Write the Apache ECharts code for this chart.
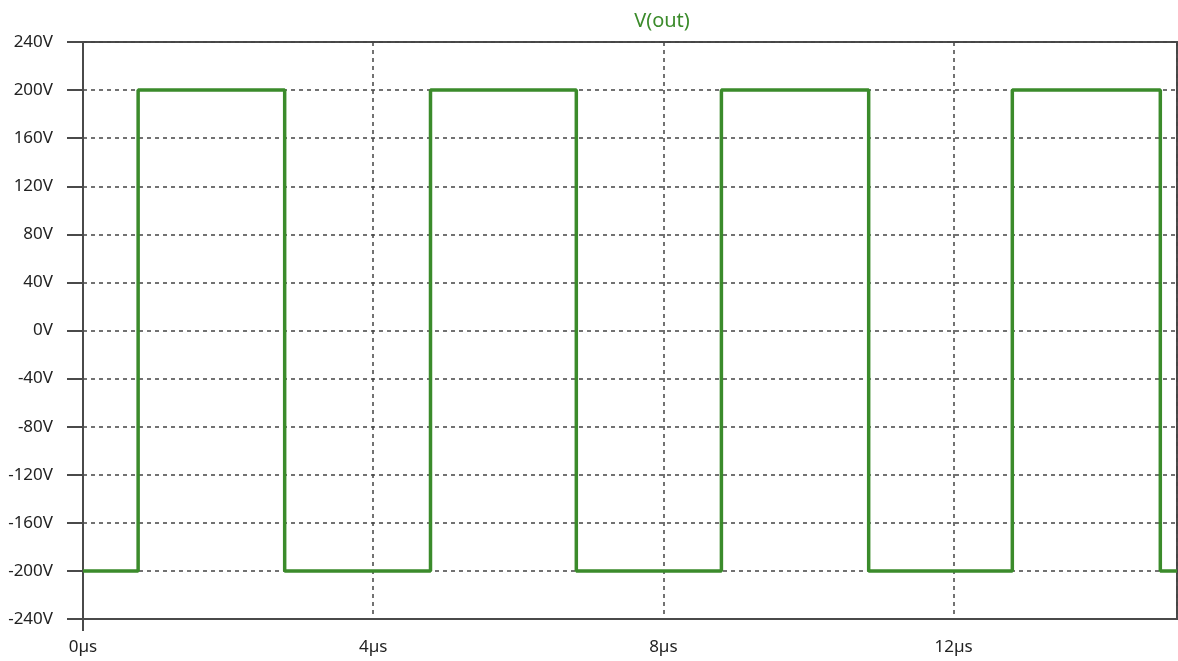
<!DOCTYPE html>
<html>
<head>
<meta charset="utf-8">
<title>V(out)</title>
<script src="https://cdn.jsdelivr.net/npm/echarts@6/dist/echarts.min.js"></script>
<style>
  html, body { margin: 0; padding: 0; background: #ffffff; }
  #chart { width: 1178px; height: 661px; }
</style>
</head>
<body>
<div id="chart"></div>
<script>
// Transient output voltage: breakpoints of the square wave (time in µs, level in V)
const edgeTimes = [0, 0.76, 2.78, 4.79, 6.80, 8.80, 10.83, 12.81, 14.85, 15.08];
const levels    = [-200, 200, -200, 200, -200, 200, -200, 200, -200, -200];

// Axis ranges and ticks
const timeMin = 0;
const timeMax = 15.08;
const timeStep = 4;
const originTick = [0];
const voltMin = -240;
const voltMax = 240;
const voltStep = 40;

const traceName = 'V(out)';
const traceColor = '#3b8b2b';
const axisColor = '#4a4a4a';
const gridColor = '#444444';
const labelFont = '"Noto Sans", "Open Sans", sans-serif';

const points = edgeTimes.map((t, i) => [t, levels[i]]);

const chart = echarts.init(document.getElementById('chart'), null, { renderer: 'canvas' });

chart.setOption({
  animation: false,
  backgroundColor: '#ffffff',
  title: {
    text: traceName,
    left: 657,
    top: 6,
    textAlign: 'center',
    textStyle: { color: traceColor, fontFamily: labelFont, fontSize: 20, fontWeight: 'normal' }
  },
  grid: {
    left: 83, right: 1, top: 42, bottom: 42,
    show: true,
    borderColor: axisColor,
    borderWidth: 2,
    backgroundColor: 'transparent'
  },
  xAxis: [{
    // time axis with labels and dotted vertical grid
    type: 'value',
    min: timeMin,
    max: timeMax,
    interval: timeStep,
    axisLine: { show: true, onZero: false, lineStyle: { color: axisColor, width: 2 } },
    axisTick: { show: false },
    axisLabel: {
      show: true,
      margin: 20,
      color: '#222',
      fontFamily: labelFont,
      fontSize: 17,
      showMaxLabel: false,
      formatter: v => (Math.abs(v / timeStep - Math.round(v / timeStep)) < 1e-9 ? v + 'µs' : '')
    },
    splitLine: {
      show: true,
      lineStyle: { color: gridColor, width: 1.5, type: [4, 4] }
    }
  }, {
    // short tick below the origin only
    type: 'value',
    position: 'bottom',
    min: timeMin,
    max: timeMax,
    axisLine: { show: false, onZero: false },
    axisTick: { show: true, customValues: originTick, length: 12, lineStyle: { color: axisColor, width: 2 } },
    axisLabel: { show: false },
    splitLine: { show: false }
  }],
  yAxis: {
    type: 'value',
    min: voltMin,
    max: voltMax,
    interval: voltStep,
    axisLine: { show: true, lineStyle: { color: axisColor, width: 2 } },
    axisTick: { show: true, inside: false, length: 16, lineStyle: { color: axisColor, width: 2 } },
    axisLabel: {
      margin: 30,
      color: '#222',
      fontFamily: labelFont,
      fontSize: 17,
      formatter: v => v + 'V'
    },
    splitLine: {
      show: true,
      lineStyle: { color: gridColor, width: 1.5, type: [4, 4] }
    }
  },
  series: [{
    name: traceName,
    type: 'line',
    step: 'end',
    xAxisIndex: 0,
    data: points,
    symbol: 'none',
    lineStyle: { color: traceColor, width: 3.5 },
    z: 5
  }]
});
</script>
</body>
</html>
